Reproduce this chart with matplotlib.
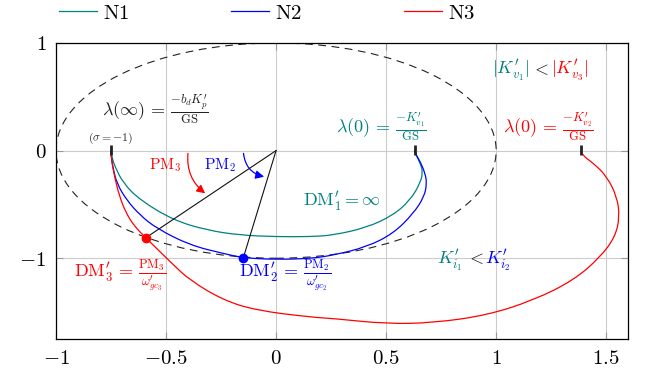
import numpy as np
import matplotlib
matplotlib.use('Agg')
import matplotlib.pyplot as plt
from matplotlib.lines import Line2D
from matplotlib.patches import Circle, FancyArrowPatch, PathPatch
from matplotlib.path import Path

plt.rcParams['mathtext.fontset'] = 'cm'
plt.rcParams['font.family'] = 'DejaVu Serif'

TEAL = '#008080'
BLUE = '#0000ff'
RED = '#ff0000'

# curves
n1_x = [-0.751, -0.745, -0.732, -0.694, -0.618, -0.467, -0.315, -0.164, 0.0, 0.155,
        0.26, 0.412, 0.533, 0.609, 0.655, 0.667, 0.655, 0.632, 0.629]
n1_y = [0.0, -0.07, -0.149, -0.304, -0.46, -0.646, -0.739, -0.786, -0.80, -0.80,
        -0.786, -0.715, -0.60, -0.46, -0.304, -0.196, -0.118, -0.025, 0.0]

n2_x = [-0.751, -0.748, -0.742, -0.724, -0.679, -0.618, -0.542, -0.391, -0.24, -0.149,
        0.0, 0.155, 0.26, 0.412, 0.533, 0.624, 0.673, 0.685, 0.677, 0.655,
        0.632, 0.629]
n2_y = [0.0, -0.07, -0.149, -0.304, -0.46, -0.60, -0.724, -0.879, -0.956, -0.997,
        -1.012, -1.003, -0.972, -0.895, -0.77, -0.584, -0.429, -0.304, -0.211,
        -0.102, -0.025, 0.0]

n3_x = [-0.751, -0.748, -0.745, -0.732, -0.712, -0.684, -0.645, -0.592, -0.47, -0.391,
        -0.24, -0.088, 0.155, 0.26, 0.503, 0.715, 0.958, 1.17, 1.352, 1.473, 1.541,
        1.561, 1.549, 1.503, 1.442, 1.389, 1.385]
n3_y = [0.0, -0.06, -0.12, -0.26, -0.42, -0.57, -0.70, -0.81, -1.055, -1.205,
        -1.39, -1.485, -1.547, -1.56, -1.61, -1.60, -1.53, -1.39, -1.205, -0.99, -0.80,
        -0.615, -0.43, -0.24, -0.118, -0.04, 0.0]

# end points (lambda(inf), lambda(0) for K'v1, lambda(0) for K'v2)
end_x = [-0.751, 0.629, 1.385]

# gain crossover points on the unit circle
dm3 = (-0.592, -0.81)
dm2 = (-0.149, -0.997)

xticks = [-1, -0.5, 0, 0.5, 1, 1.5]
xtick_labels = [r'$-1$', r'$-0.5$', r'$0$', r'$0.5$', r'$1$', r'$1.5$']
yticks = [-1, 0, 1]
ytick_labels = [r'$-1$', r'$0$', r'$1$']


def smooth_path(xs, ys):
    # quadratic b-spline style path, the points act as control points
    pts = list(zip(xs, ys))
    verts = [pts[0]]
    codes = [Path.MOVETO]
    for i in range(1, len(pts) - 1):
        if i < len(pts) - 2:
            end = ((pts[i][0] + pts[i + 1][0]) / 2, (pts[i][1] + pts[i + 1][1]) / 2)
        else:
            end = pts[-1]
        verts += [pts[i], end]
        codes += [Path.CURVE3, Path.CURVE3]
    return Path(verts, codes)


fig = plt.figure(figsize=(6.51, 3.80), dpi=100)
ax = fig.add_axes([0.086, 0.108, 0.879, 0.779])
ax.set_xlim(-1, 1.6)
ax.set_ylim(-1.75, 1.0)

ax.grid(True, color='#cccccc', linewidth=0.8, zorder=0)
ax.set_axisbelow(True)
ax.set_xticks(xticks)
ax.set_xticklabels(xtick_labels, fontsize=15)
ax.set_yticks(yticks)
ax.set_yticklabels(ytick_labels, fontsize=15)
ax.tick_params(direction='in', length=5, color='#999999', top=True, right=True, pad=7)
for s in ax.spines.values():
    s.set_linewidth(0.9)

# unit circle
ax.add_patch(Circle((0, 0), 1, fill=False, ls=(0, (7, 5)), lw=0.8, color='#222222'))

for xs, ys, c in [(n1_x, n1_y, TEAL), (n2_x, n2_y, BLUE), (n3_x, n3_y, RED)]:
    ax.add_patch(PathPatch(smooth_path(xs, ys), fill=False, edgecolor=c, lw=0.9))

for xe in end_x:
    ax.plot([xe, xe], [0.055, -0.04], color='#222222', lw=2, solid_capstyle='butt')

ax.plot([0, dm3[0]], [0, dm3[1]], color='#111111', lw=0.8)
ax.plot([0, dm2[0]], [0, dm2[1]], color='#111111', lw=0.8)
ax.plot(*dm3, 'o', color=RED, ms=6)
ax.plot(*dm2, 'o', color=BLUE, ms=6)

ax.add_patch(FancyArrowPatch((-0.399, 0), (-0.312, -0.413), connectionstyle='arc3,rad=0.3',
                             arrowstyle='-|>,head_length=5,head_width=2.5', color=RED, lw=0.9))
ax.add_patch(FancyArrowPatch((-0.149, 0), (-0.042, -0.248), connectionstyle='arc3,rad=0.4',
                             arrowstyle='-|>,head_length=5,head_width=2.5', color=BLUE, lw=0.9))

# labels
fs = 13
ax.text(-0.55, 0.38, r"$\lambda(\infty)\,=\,\frac{-b_d K^{\prime}_p}{\mathrm{GS}}$", color='#222222',
        fontsize=fs, ha='center', va='center')
ax.text(-0.75, 0.11, r'$(\sigma = -1)$', color='#222222', fontsize=8.5, ha='center', va='center')
ax.text(-0.505, -0.133, r'$\mathrm{PM}_3$', color=RED, fontsize=11, ha='center', va='center')
ax.text(-0.255, -0.133, r'$\mathrm{PM}_2$', color=BLUE, fontsize=11, ha='center', va='center')
ax.text(0.30, -0.475, r"$\mathrm{DM}^{\prime}_1 = \infty$", color=TEAL, fontsize=fs,
        ha='center', va='center')
ax.text(0.48, 0.22, r"$\lambda(0)\,=\,\frac{-K^{\prime}_{v_1}}{\mathrm{GS}}$", color=TEAL,
        fontsize=fs, ha='center', va='center')
ax.text(1.235, 0.22, r"$\lambda(0)\,=\,\frac{-K^{\prime}_{v_2}}{\mathrm{GS}}$", color=RED,
        fontsize=fs, ha='center', va='center')
ax.text(-0.71, -1.16, r"$\mathrm{DM}^{\prime}_3\,=\,\frac{\mathrm{PM}_3}{\omega^{\prime}_{gc_3}}$",
        color=RED, fontsize=fs, ha='center', va='center')
ax.text(0.04, -1.16, r"$\mathrm{DM}^{\prime}_2\,=\,\frac{\mathrm{PM}_2}{\omega^{\prime}_{gc_2}}$",
        color=BLUE, fontsize=fs, ha='center', va='center')

ax.text(1.068, 0.75, r"$|K^{\prime}_{v_1}|$", color=TEAL, fontsize=fs, ha='center', va='center')
ax.text(1.200, 0.75, r'$<$', color='#222222', fontsize=fs, ha='center', va='center')
ax.text(1.336, 0.75, r"$|K^{\prime}_{v_3}|$", color=RED, fontsize=fs, ha='center', va='center')

ax.text(0.789, -1.05, r"$K^{\prime}_{i_1}$", color=TEAL, fontsize=fs, ha='center', va='baseline')
ax.text(0.905, -1.05, r'$<$', color='#222222', fontsize=fs, ha='center', va='baseline')
ax.text(1.009, -1.05, r"$K^{\prime}_{i_2}$", color=BLUE, fontsize=fs, ha='center', va='baseline')

handles = [Line2D([], [], color=TEAL, lw=0.9), Line2D([], [], color=BLUE, lw=0.9),
           Line2D([], [], color=RED, lw=0.9)]
fig.legend(handles, [r'$\mathrm{N1}$', r'$\mathrm{N2}$', r'$\mathrm{N3}$'], loc='upper left',
           bbox_to_anchor=(0.062, 1.04), ncol=3, frameon=False, fontsize=15,
           handlelength=1.8, handletextpad=0.3, columnspacing=4.9)

fig.savefig('out.png', dpi=100)
